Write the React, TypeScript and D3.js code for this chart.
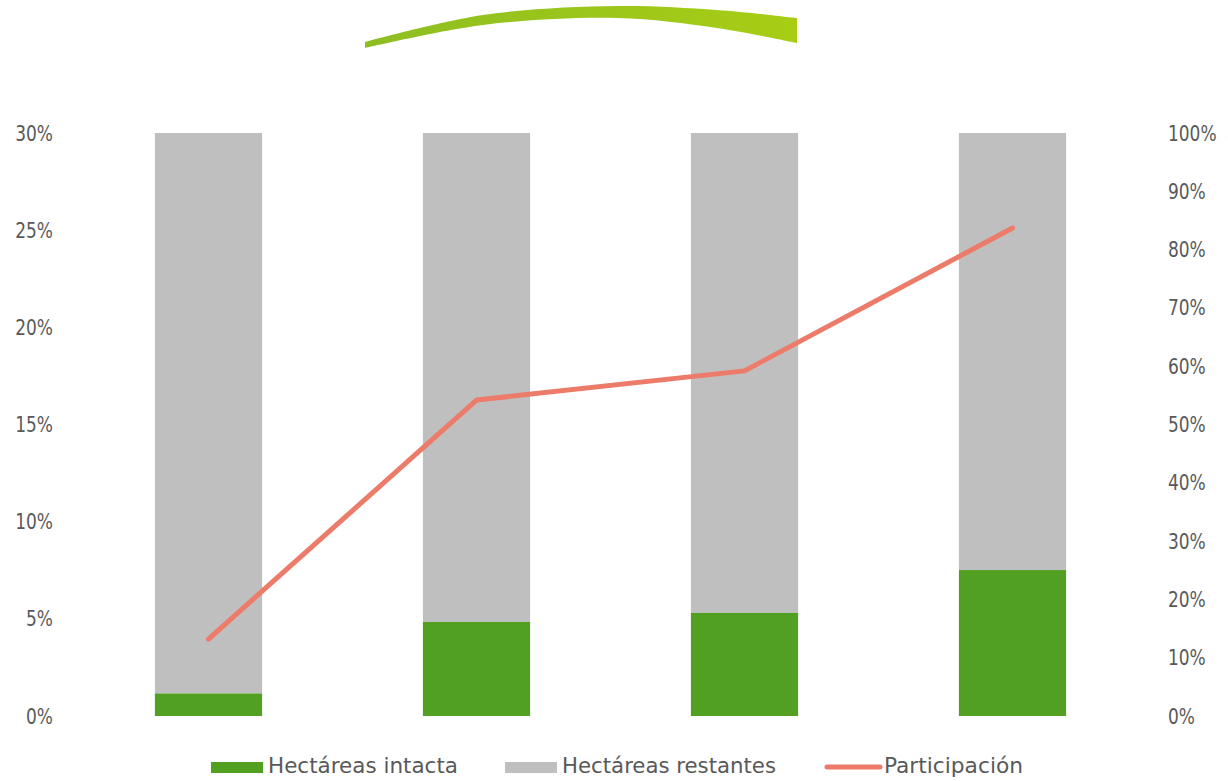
import React from "react";
import * as d3 from "d3";

const categories = ["A", "B", "C", "D"];
const intacta = [0.0116, 0.0484, 0.053, 0.0751];
const total = [0.3, 0.3, 0.3, 0.3];
const participacion = [0.132, 0.542, 0.592, 0.837];
const leftTicks = [0, 0.05, 0.1, 0.15, 0.2, 0.25, 0.3];
const rightTicks = [0, 0.1, 0.2, 0.3, 0.4, 0.5, 0.6, 0.7, 0.8, 0.9, 1.0];
const legendLabels = ["Hectáreas intacta", "Hectáreas restantes", "Participación"];

const W = 1228, H = 781;
const FONT = "'DejaVu Sans Condensed', 'DejaVu Sans', sans-serif";
const TXT = "#595959";
const GREEN = "#52A022";
const GRAY = "#BFBFBF";
const RED = "#ED7B6A";

export default function App() {
  const x = d3.scaleBand<string>().domain(categories).range([74.5, 1146.5]).paddingInner(0.6).paddingOuter(0.3);
  const yL = d3.scaleLinear().domain([0, 0.3]).range([716, 133]);
  const yR = d3.scaleLinear().domain([0, 1]).range([716, 133]);
  const pct = d3.format(".0%");
  const line = d3.line<number>().x((_, i) => (x(categories[i]) as number) + x.bandwidth() / 2).y((d) => yR(d));

  const swTop: [number, number][] = [[365, 42], [483, 15], [617, 6], [717, 10], [797, 18]];
  const swBot: [number, number][] = [[797, 43], [717, 28], [617, 18], [483, 25], [365, 48]];
  const sw = d3.line().curve(d3.curveCatmullRom);
  const swPath = sw(swTop) + "L" + sw(swBot)!.slice(1) + "Z";

  const tick = (key: string, tx: number, ty: number, anchor: string, label: string) => (
    <text key={key} transform={`translate(${tx},${ty}) scale(0.9,1)`} dy="0.36em" textAnchor={anchor} fontSize={21} fill={TXT}>{label}</text>
  );

  return (
    <svg width={W} height={H} style={{ position: "absolute", left: 0, top: 0 }} fontFamily={FONT}>
      <defs>
        <linearGradient id="swg" x1="0" x2="1" y1="0" y2="0">
          <stop offset="0" stopColor="#8DBE22" />
          <stop offset="1" stopColor="#A8CD14" />
        </linearGradient>
      </defs>
      <rect x={0} y={0} width={W} height={H} fill="#fff" />
      <path d={swPath} fill="url(#swg)" />
      {categories.map((c, i) => (
        <g key={c}>
          <rect x={x(c)} y={yL(total[i])} width={x.bandwidth()} height={yL(intacta[i]) - yL(total[i])} fill={GRAY} />
          <rect x={x(c)} y={yL(intacta[i])} width={x.bandwidth()} height={yL(0) - yL(intacta[i])} fill={GREEN} />
        </g>
      ))}
      <path d={line(participacion)!} fill="none" stroke={RED} strokeWidth={5} strokeLinecap="round" strokeLinejoin="round" />
      {leftTicks.map((t) => tick("l" + t, 53, yL(t), "end", pct(t)))}
      {rightTicks.map((t) => tick("r" + t, 1168, yR(t), "start", pct(t)))}
      <g fontSize={22} fill={TXT}>
        <rect x={211} y={762} width={52} height={11} fill={GREEN} />
        <text x={268} y={773} textLength={190} lengthAdjust="spacingAndGlyphs">{legendLabels[0]}</text>
        <rect x={505} y={762} width={52} height={11} fill={GRAY} />
        <text x={562} y={773} textLength={214} lengthAdjust="spacingAndGlyphs">{legendLabels[1]}</text>
        <line x1={827} x2={880} y1={767} y2={767} stroke={RED} strokeWidth={5} strokeLinecap="round" />
        <text x={884} y={773} textLength={139} lengthAdjust="spacingAndGlyphs">{legendLabels[2]}</text>
      </g>
    </svg>
  );
}
